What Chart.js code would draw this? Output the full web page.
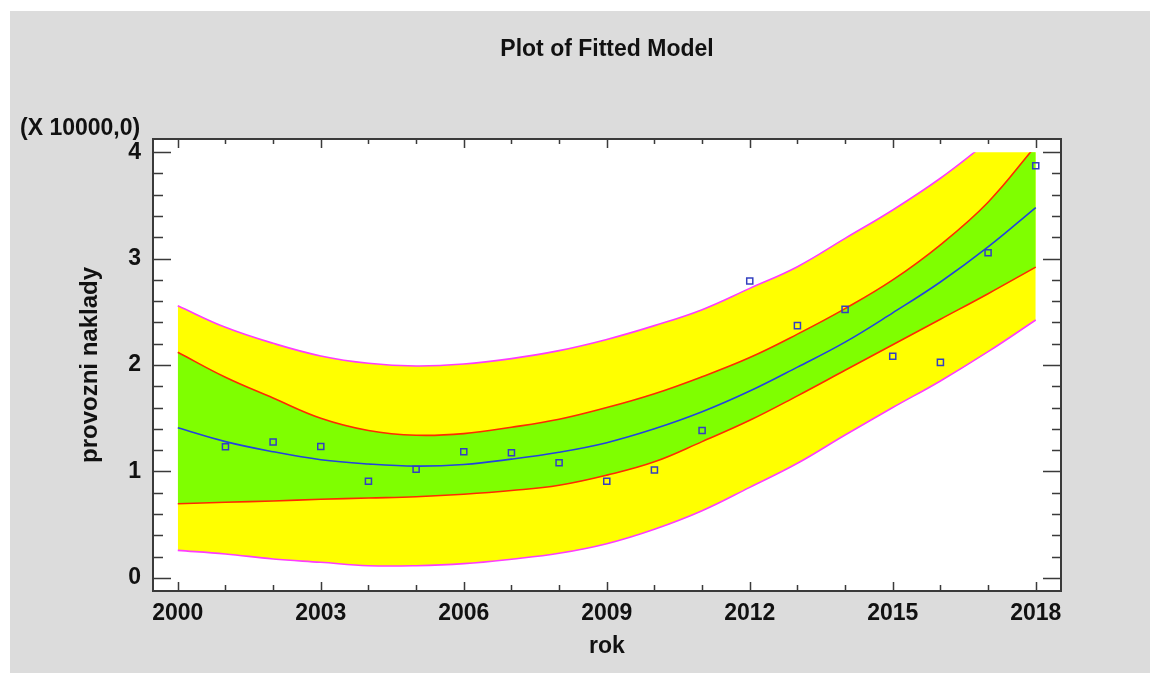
<!DOCTYPE html>
<html><head><meta charset="utf-8">
<script src="https://cdn.jsdelivr.net/npm/chart.js@4.4.1/dist/chart.umd.min.js"></script>
<style>html,body{margin:0;padding:0;background:#fff;}#wrap{width:1150px;height:673px;position:relative;}</style>
</head><body><div id="wrap"><canvas id="c" width="1150" height="673"></canvas></div>
<script>
// ---- data (units of 10000) ----
const years = [2000,2001,2002,2003,2004,2005,2006,2007,2008,2009,2010,2011,2012,2013,2014,2015,2016,2017,2018];
const fitted    = [1.41,1.28,1.185,1.11,1.07,1.05,1.065,1.115,1.18,1.27,1.40,1.56,1.755,1.98,2.215,2.49,2.78,3.11,3.48];
const upperConf = [2.12,1.885,1.69,1.50,1.385,1.34,1.355,1.415,1.49,1.60,1.73,1.89,2.07,2.29,2.53,2.80,3.13,3.53,4.06];
const lowerConf = [0.696,0.71,0.722,0.738,0.75,0.762,0.785,0.82,0.87,0.965,1.09,1.28,1.48,1.71,1.95,2.19,2.43,2.67,2.92];
const upperPred = [2.557,2.354,2.204,2.085,2.016,1.991,2.009,2.06,2.135,2.24,2.37,2.52,2.72,2.924,3.19,3.457,3.755,4.10,4.45];
const lowerPred = [0.258,0.224,0.177,0.146,0.114,0.114,0.133,0.175,0.23,0.32,0.456,0.63,0.85,1.076,1.342,1.60,1.85,2.125,2.423];
const obsYears  = [2001,2002,2003,2004,2005,2006,2007,2008,2009,2010,2011,2012,2013,2014,2015,2016,2017,2018];
const observed  = [1.232,1.277,1.234,0.907,1.02,1.185,1.176,1.082,0.907,1.013,1.384,2.79,2.37,2.523,2.082,2.025,3.055,3.873];
const xTicks = [2000,2003,2006,2009,2012,2015,2018];
const xMinorTicks = [2000,2001,2002,2003,2004,2005,2006,2007,2008,2009,2010,2011,2012,2013,2014,2015,2016,2017,2018];
const yTicks = [0,1,2,3,4];
const yMinorTicks = [0,0.2,0.4,0.6,0.8,1,1.2,1.4,1.6,1.8,2,2.2,2.4,2.6,2.8,3,3.2,3.4,3.6,3.8,4];
const yClipTop = 4;

const FONT = '"Liberation Sans", Arial, Helvetica, sans-serif';
const TXT = '#111111';
const pts = (xs, ys) => xs.map((x, i) => ({x: x, y: ys[i]}));

const bgPlugin = {
  id: 'bg',
  beforeDraw(chart) {
    const {ctx, chartArea: a} = chart;
    ctx.save();
    ctx.fillStyle = '#ffffff';
    ctx.fillRect(0, 0, chart.width, chart.height);
    ctx.fillStyle = '#dcdcdc';
    ctx.fillRect(10, 11, chart.width - 10, chart.height - 11);
    ctx.fillStyle = '#ffffff';
    ctx.fillRect(a.left, a.top, a.right - a.left, a.bottom - a.top);
    ctx.restore();
  },
  beforeDatasetsDraw(chart) {
    const {ctx, chartArea: a} = chart;
    const yTop = chart.scales.y.getPixelForValue(yClipTop);
    ctx.save();
    ctx.beginPath();
    ctx.rect(a.left, yTop, a.right - a.left, a.bottom - yTop);
    ctx.clip();
  },
  afterDatasetsDraw(chart) {
    chart.ctx.restore();
  },
  afterDraw(chart) {
    const {ctx, chartArea: a} = chart;
    const xs = chart.scales.x, ys = chart.scales.y;
    ctx.save();
    ctx.strokeStyle = '#3a3a3a';
    ctx.lineWidth = 1.5;
    ctx.beginPath();
    yMinorTicks.forEach(v => {
      const py = Math.round(ys.getPixelForValue(v)) + 0.5;
      const major = yTicks.some(t => Math.abs(t - v) < 1e-6);
      const lenL = major ? 18 : 10, lenR = major ? 18 : 9;
      ctx.moveTo(a.left, py); ctx.lineTo(a.left + lenL, py);
      ctx.moveTo(a.right, py); ctx.lineTo(a.right - lenR, py);
    });
    xMinorTicks.forEach(v => {
      const px = Math.round(xs.getPixelForValue(v)) + 0.5;
      const major = xTicks.includes(v);
      ctx.moveTo(px, a.top); ctx.lineTo(px, a.top + (major ? 9 : 5));
      ctx.moveTo(px, a.bottom); ctx.lineTo(px, a.bottom - (major ? 9 : 6));
    });
    ctx.stroke();
    ctx.lineWidth = 2;
    ctx.strokeRect(a.left, a.top, a.right - a.left, a.bottom - a.top);
    ctx.fillStyle = TXT;
    ctx.font = 'bold 23px ' + FONT;
    ctx.textAlign = 'left';
    ctx.textBaseline = 'alphabetic';
    ctx.fillText('(X 10000,0)', 20, 135);
    ctx.restore();
  }
};

const lineDs = (label, ys, color, extra) => Object.assign({
  type: 'line', label: label, data: pts(years, ys),
  borderColor: color, borderWidth: 1.6, pointRadius: 0, tension: 0.4, fill: false
}, extra || {});

new Chart(document.getElementById('c'), {
  type: 'line',
  data: {
    datasets: [
      {type: 'scatter', label: 'observed', data: pts(obsYears, observed), showLine: false,
       pointStyle: 'rect', pointRadius: 4.3, pointBorderWidth: 1.5,
       pointBorderColor: '#3340c0', pointBackgroundColor: 'rgba(0,0,0,0)', clip: false},
      lineDs('fit', fitted, '#2244dd'),
      lineDs('lowerConf', lowerConf, '#ff2a00'),
      lineDs('lowerPred', lowerPred, '#ff3cff'),
      lineDs('upperConf', upperConf, '#ff2a00', {fill: 2, backgroundColor: '#7fff00'}),
      lineDs('upperPred', upperPred, '#ff3cff', {fill: 3, backgroundColor: '#ffff00'})
    ]
  },
  options: {
    responsive: false,
    animation: false,
    events: [],
    layout: {padding: {left: 10, top: 11, right: 89, bottom: 0}},
    plugins: {
      legend: {display: false},
      tooltip: {enabled: false},
      title: {display: true, text: 'Plot of Fitted Model', fullSize: false, color: TXT,
              font: {family: FONT, size: 23, weight: 'bold'}, padding: {top: 25, bottom: 75.4}}
    },
    scales: {
      x: {
        type: 'linear', position: 'bottom', min: 1999.48, max: 2018.53,
        afterBuildTicks: s => { s.ticks = xTicks.map(v => ({value: v})); },
        afterFit: s => { s.height = 82; },
        grid: {display: false, drawTicks: false},
        border: {display: false},
        ticks: {callback: v => String(v), color: TXT, font: {family: FONT, size: 23, weight: 'bold'},
                padding: 9, maxRotation: 0, autoSkip: false},
        title: {display: true, text: 'rok', color: TXT, font: {family: FONT, size: 23, weight: 'bold'},
                padding: {top: 0, bottom: 13}}
      },
      y: {
        type: 'linear', position: 'left', min: -0.124, max: 4.124,
        afterBuildTicks: s => { s.ticks = yTicks.map(v => ({value: v})); },
        afterFit: s => { s.width = 143; },
        grid: {display: false, drawTicks: false},
        border: {display: false},
        ticks: {callback: v => String(v), color: TXT, font: {family: FONT, size: 23, weight: 'bold'},
                padding: 12, autoSkip: false},
        title: {display: true, text: 'provozni naklady', color: TXT, font: {family: FONT, size: 24, weight: 'bold'},
                padding: {top: 65.6, bottom: 0}}
      }
    }
  },
  plugins: [bgPlugin]
});
</script></body></html>
